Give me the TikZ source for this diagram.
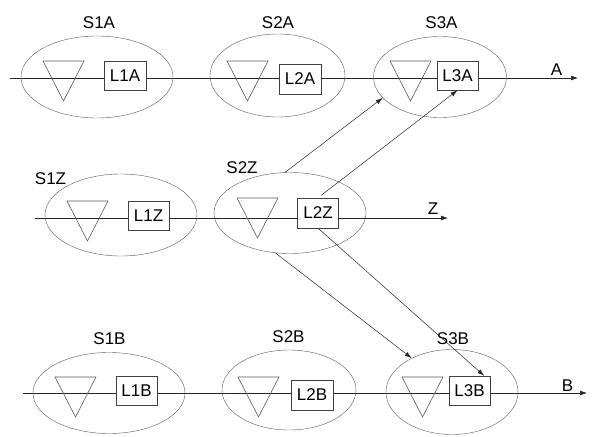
\documentclass[tikz,border=0pt]{standalone}
\usepackage{fontspec}
\setmainfont{Liberation Sans}
\usetikzlibrary{arrows.meta,shapes.geometric}

\begin{document}
\begin{tikzpicture}[x=1pt, y=-1pt,
    stn/.style={ellipse, draw=black!65, inner sep=0pt},
    lbox/.style={draw=black!75, fill=white, inner sep=0pt,
                 minimum width=41pt, minimum height=30pt,
                 font=\fontsize{17}{19}\selectfont},
    lbl/.style={inner sep=0pt, font=\fontsize{17}{19}\selectfont},
    tri/.style={draw=black!65, line width=0.6pt},
    wire/.style={draw=black!85, line width=0.6pt, -{Latex[length=7pt,width=5pt]}},
    link/.style={draw=black!85, line width=0.5pt, -{Latex[length=7pt,width=4.5pt]}}]
    \useasboundingbox (0,0) rectangle (599,436);
    % lines
    \coordinate (a0) at (10,78);  \coordinate (a1) at (578,78);
    \coordinate (z0) at (35,218); \coordinate (z1) at (448,218);
    \coordinate (b0) at (23,393); \coordinate (b1) at (587,393);
    \draw[wire] (a0) -- (a1);
    \draw[wire] (z0) -- (z1);
    \draw[wire] (b0) -- (b1);
    % stations
    \node[stn, minimum width=152pt, minimum height=82pt] (s1a) at (97,77) {};
    \node[stn, minimum width=135pt, minimum height=83pt] (s2a) at (277.5,75.5) {};
    \node[stn, minimum width=133pt, minimum height=81pt] (s3a) at (440,77) {};
    \node[stn, minimum width=152pt, minimum height=82pt] (s1z) at (121,215) {};
    \node[stn, minimum width=152pt, minimum height=81pt] (s2z) at (290,213) {};
    \node[stn, minimum width=152pt, minimum height=81pt] (s1b) at (109,393) {};
    \node[stn, minimum width=134pt, minimum height=80pt] (s2b) at (289,390) {};
    \node[stn, minimum width=132pt, minimum height=85pt] (s3b) at (452,392) {};
    % triangles
    \foreach \x/\y in {43/61, 227/61, 390/61, 67/201, 237/198, 55/377, 238/377, 402/377}
        \draw[tri] (\x,\y) -- ++(41,0) -- ++(-20.5,40) -- cycle;
    % boxes
    \node[lbox, minimum width=42pt, minimum height=29pt] (l1a) at (125,75.5) {L1A};
    \node[lbox, minimum width=42pt] (l2a) at (300,79) {L2A};
    \node[lbox, minimum height=29pt] (l3a) at (457.5,75.5) {L3A};
    \node[lbox, minimum height=29pt] (l1z) at (148.5,215.5) {L1Z};
    \node[lbox] (l2z) at (318,213) {L2Z};
    \node[lbox, minimum height=29pt] (l1b) at (136.5,390.5) {L1B};
    \node[lbox, minimum width=42pt] (l2b) at (312,395) {L2B};
    \node[lbox, minimum height=29pt] (l3b) at (469.5,390.5) {L3B};
    % labels
    \node[lbl] (t1a) at (99,23) {S1A};
    \node[lbl] (t2a) at (278,22.5) {S2A};
    \node[lbl] (t3a) at (441.5,22.5) {S3A};
    \node[lbl] (t1z) at (50.5,178.5) {S1Z};
    \node[lbl] (t2z) at (242,167.5) {S2Z};
    \node[lbl] (t1b) at (109.5,338.5) {S1B};
    \node[lbl] (t2b) at (288.5,337) {S2B};
    \node[lbl] (t3b) at (453,338.5) {S3B};
    \node[lbl] (ta) at (556.5,69.5) {A};
    \node[lbl] (tz) at (433,209) {Z};
    \node[lbl] (tb) at (567.5,385.5) {B};
    % cross links
    \draw[link] (s2z.97) -- (s3a.200);
    \draw[link, shorten <=4pt] (l2z.north) -- (l3a.south);
    \draw[link] (s2z.250) -- (s3b.140);
    \draw[link] (l2z.south) -- (l3b.45);
\end{tikzpicture}
\end{document}
